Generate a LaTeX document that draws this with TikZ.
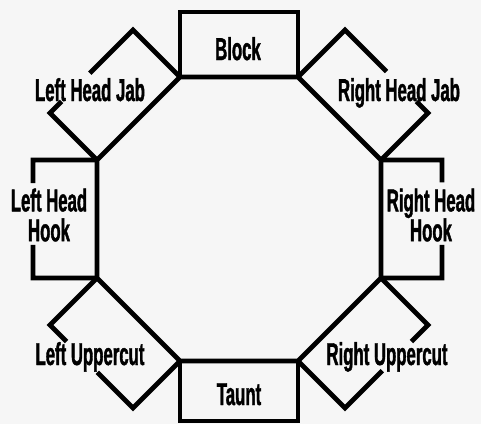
\documentclass[tikz,border=0pt]{standalone}
\usepackage{fontspec}
\newfontfamily\movefont[FakeStretch=0.53, BoldFeatures={FakeBold=1.2}]{Liberation Sans}
\usetikzlibrary{calc}
\definecolor{Paper}{RGB}{246,246,246}

\begin{document}
\begin{tikzpicture}[x=0.02cm, y=-0.02cm,
  wall/.style={line width=2.7pt, black},
  move/.style={font=\movefont\bfseries\fontsize{18}{17}\selectfont,
               inner sep=0pt, anchor=base},
  hook/.style={font=\movefont\bfseries\fontsize{18}{17}\selectfont,
               inner sep=0pt, align=center},
]
\fill[Paper] (0,0) rectangle (481,424);
\useasboundingbox (0,0) rectangle (481,424);

% octagon ring
\coordinate (tl) at (180,77);  \coordinate (tr) at (298,77);
\coordinate (rt) at (381,160); \coordinate (rb) at (381,278);
\coordinate (br) at (298,361); \coordinate (bl) at (180,361);
\coordinate (lb) at (97,278);  \coordinate (lt) at (97,160);
\draw[wall] (tl) -- (tr) -- (rt) -- (rb) -- (br) -- (bl) -- (lb) -- (lt) -- cycle;

% outer corners of the boxes
\coordinate (blk1) at (180,12);  \coordinate (blk2) at (298,12);
\coordinate (tau1) at (180,421); \coordinate (tau2) at (298,421);
\coordinate (lj1) at ($(tl)+(-47,-47)$); \coordinate (lj2) at ($(lt)+(-47,-47)$);
\coordinate (rj1) at ($(tr)+(47,-47)$);  \coordinate (rj2) at ($(rt)+(47,-47)$);
\coordinate (lh1) at (33,160);  \coordinate (lh2) at (33,278);
\coordinate (rh1) at (442,160); \coordinate (rh2) at (442,278);
\coordinate (lu1) at ($(lb)+(-47,47)$);  \coordinate (lu2) at ($(bl)+(-47,47)$);
\coordinate (ru1) at ($(rb)+(47,47)$);   \coordinate (ru2) at ($(br)+(47,47)$);

% boxes
\draw[wall] (tl) -- (blk1) -- (blk2) -- (tr);
\draw[wall] (bl) -- (tau1) -- (tau2) -- (br);
\draw[wall] (tl) -- (lj1) -- ($(lj1)!0.52!(lj2)$);
\draw[wall] (lt) -- (lj2) -- ($(lj2)!0.14!(lj1)$);
\draw[wall] (tr) -- (rj1) -- ($(rj1)!0.5!(rj2)$);
\draw[wall] (rt) -- (rj2) -- ($(rj2)!0.14!(rj1)$);
\draw[wall] (lt) -- (lh1) -- ($(lh1)!0.195!(lh2)$);
\draw[wall] (lb) -- (lh2) -- ($(lh2)!0.28!(lh1)$);
\draw[wall] (rt) -- (rh1) -- ($(rh1)!0.19!(rh2)$);
\draw[wall] (rb) -- (rh2) -- ($(rh2)!0.28!(rh1)$);
\draw[wall] (lb) -- (lu1) -- ($(lu1)!0.2!(lu2)$);
\draw[wall] (bl) -- (lu2) -- ($(lu2)!0.43!(lu1)$);
\draw[wall] (rb) -- (ru1) -- ($(ru1)!0.2!(ru2)$);
\draw[wall] (br) -- (ru2) -- ($(ru2)!0.45!(ru1)$);

% labels
\node[move] (block) at (238,60) {Block};
\node[move] (taunt) at (239,405) {Taunt};
\node[move] (ljab) at (90,101) {Left Head Jab};
\node[move] (rjab) at (399,101) {Right Head Jab};
\node[hook] (lhook) at (49,215) {Left Head\\Hook};
\node[hook] (rhook) at (431,215) {Right Head\\Hook};
\node[move] (lcut) at (90,365) {Left Uppercut};
\node[move] (rcut) at (387,365) {Right Uppercut};
\end{tikzpicture}
\end{document}
